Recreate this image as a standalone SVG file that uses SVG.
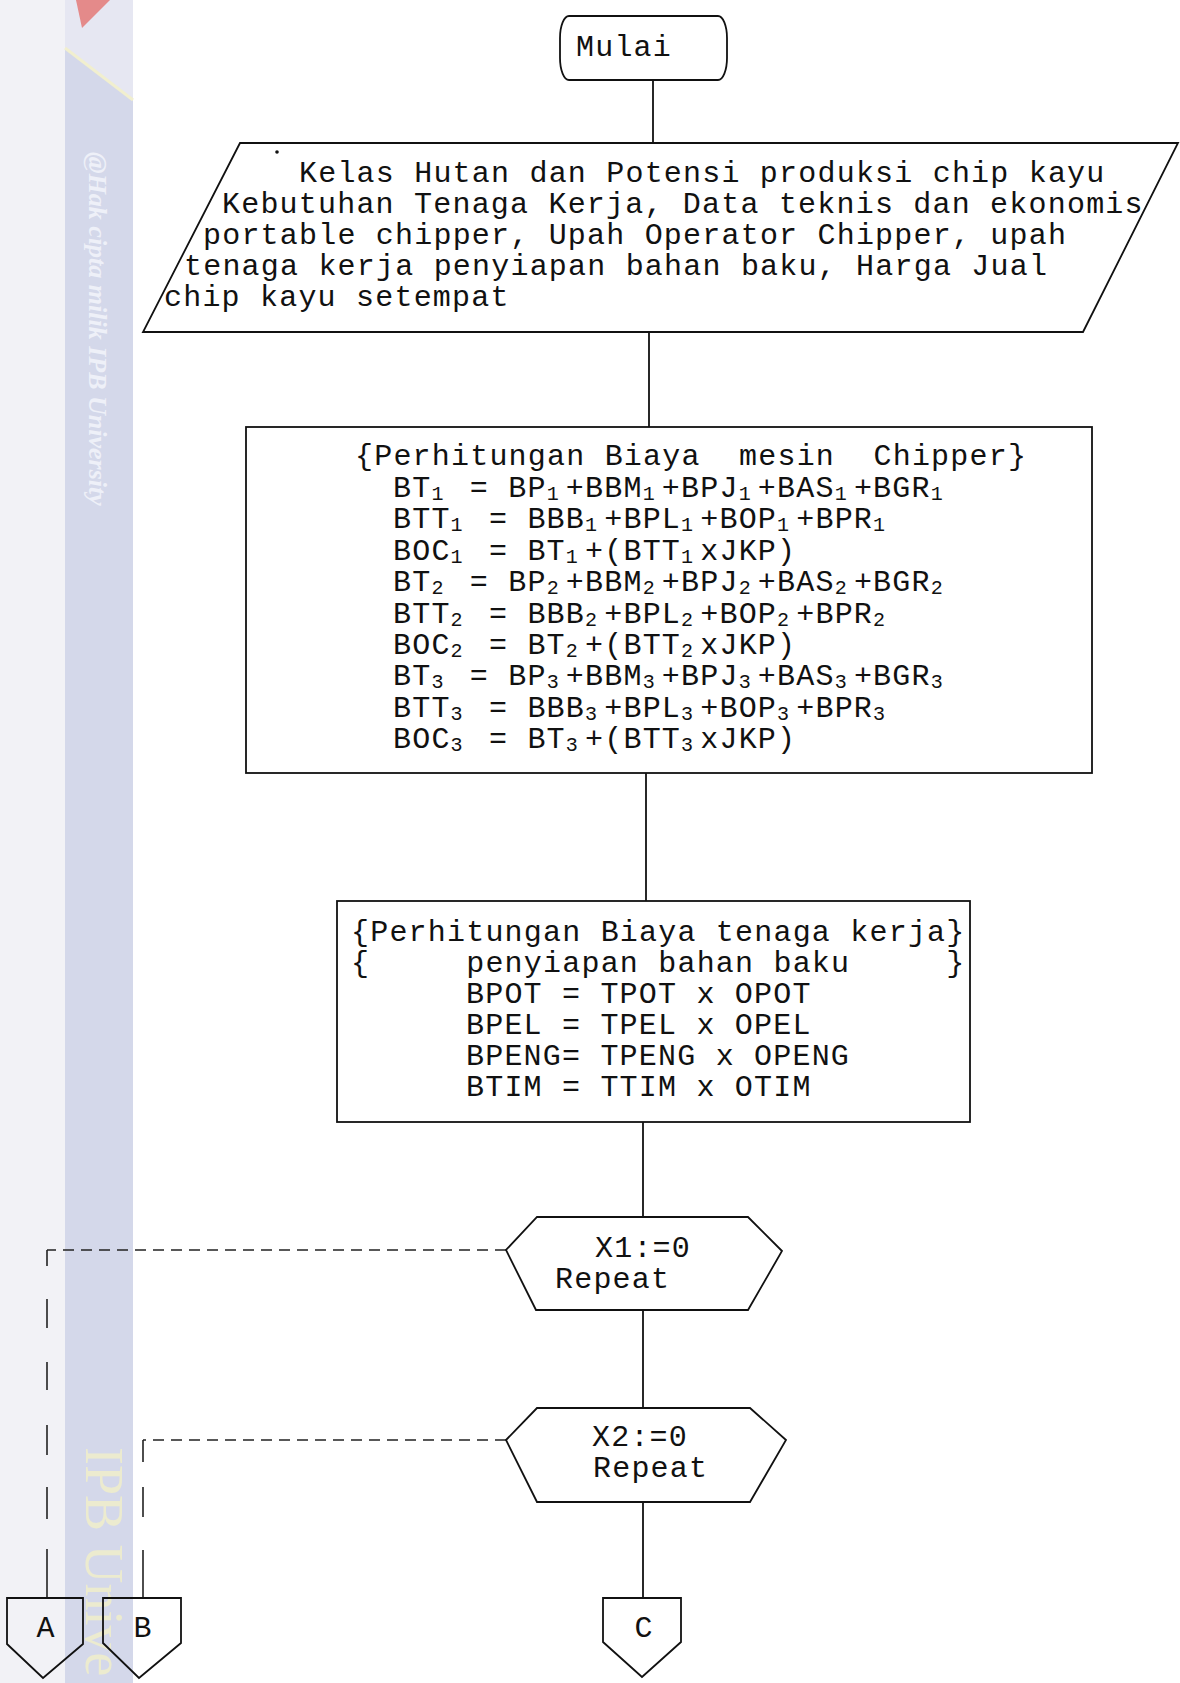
<svg xmlns="http://www.w3.org/2000/svg" width="1180" height="1683" viewBox="0 0 1180 1683">
<defs>
<style>
.shape{fill:none;stroke:#111;stroke-width:1.8;stroke-linejoin:miter}
.line{fill:none;stroke:#111;stroke-width:1.8}
.dashh{fill:none;stroke:#222;stroke-width:1.5;stroke-dasharray:11 7}
.dashv{fill:none;stroke:#222;stroke-width:1.6}
.t{font-family:"Liberation Mono","Courier New",monospace;font-size:30px;letter-spacing:1.2px;fill:#111}
.s{font-size:20px;letter-spacing:7.2px}
.wm1{font-family:"Liberation Serif","Times New Roman",serif;font-style:italic;font-weight:bold;font-size:26px;fill:#eef0f8}
.wm2{font-family:"Liberation Serif","Times New Roman",serif;font-size:54px;fill:#ecebcf}
</style>
</defs>
<g id="background">
<rect x="0" y="0" width="1180" height="1683" fill="#ffffff"/>
<rect x="0" y="0" width="65" height="1683" fill="#f2f2f6"/>
<rect x="65" y="0" width="68" height="1683" fill="#d4d8ea"/>
<polygon points="65,0 133,0 133,100 65,48" fill="#e6e7f2"/>
<polyline points="65,48 133,100" fill="none" stroke="#f1efcf" stroke-width="3"/>
<polygon points="76,0 110,0 82,28" fill="#e48a8a"/>
<text class="wm1" transform="translate(89,152) rotate(90)">@Hak cipta milik IPB University</text>
<text class="wm2" transform="translate(86,1447) rotate(90)">IPB Unive</text>
</g>
<g id="connectors">
<line class="line" x1="653" y1="80" x2="653" y2="143"/>
<line class="line" x1="649" y1="332" x2="649" y2="427"/>
<line class="line" x1="646" y1="773" x2="646" y2="901"/>
<line class="line" x1="643" y1="1122" x2="643" y2="1217"/>
<line class="line" x1="643" y1="1310" x2="643" y2="1408"/>
<line class="line" x1="643" y1="1502" x2="643" y2="1598"/>
<path class="dashh" d="M506,1250 H47"/>
<path class="dashv" d="M47,1250 V1266 M47,1299 V1328 M47,1362 V1390 M47,1425 V1455 M47,1487 V1519 M47,1549 V1598"/>
<path class="dashh" d="M506,1440 H143"/>
<path class="dashv" d="M143,1440 V1462 M143,1487 V1517 M143,1550 V1598"/>
</g>
<g id="mulai">
<rect class="shape" x="560" y="16" width="167" height="64" rx="9" ry="22"/>
<text class="t" x="576" y="56">Mulai</text>
</g>
<g id="input">
<polygon class="shape" points="240,143 1178,143 1083,332 143,332"/>
<circle cx="277" cy="152" r="1.8" fill="#111"/>
<text class="t" x="299" y="182">Kelas Hutan dan Potensi produksi chip kayu</text>
<text class="t" x="222" y="213">Kebutuhan Tenaga Kerja, Data teknis dan ekonomis</text>
<text class="t" x="203" y="244">portable chipper, Upah Operator Chipper, upah</text>
<text class="t" x="184" y="275">tenaga kerja penyiapan bahan baku, Harga Jual</text>
<text class="t" x="164" y="306">chip kayu setempat</text>
</g>
<g id="biaya-mesin">
<rect class="shape" x="246" y="427" width="846" height="346"/>
<text class="t" x="355" y="465" xml:space="preserve">{Perhitungan Biaya  mesin  Chipper}</text>
<text class="t" x="393" y="497" xml:space="preserve">BT<tspan class="s" dy="3">1</tspan><tspan dy="-3"> = BP</tspan><tspan class="s" dy="3">1</tspan><tspan dy="-3">+BBM</tspan><tspan class="s" dy="3">1</tspan><tspan dy="-3">+BPJ</tspan><tspan class="s" dy="3">1</tspan><tspan dy="-3">+BAS</tspan><tspan class="s" dy="3">1</tspan><tspan dy="-3">+BGR</tspan><tspan class="s" dy="3">1</tspan></text>
<text class="t" x="393" y="528" xml:space="preserve">BTT<tspan class="s" dy="3">1</tspan><tspan dy="-3"> = BBB</tspan><tspan class="s" dy="3">1</tspan><tspan dy="-3">+BPL</tspan><tspan class="s" dy="3">1</tspan><tspan dy="-3">+BOP</tspan><tspan class="s" dy="3">1</tspan><tspan dy="-3">+BPR</tspan><tspan class="s" dy="3">1</tspan></text>
<text class="t" x="393" y="560" xml:space="preserve">BOC<tspan class="s" dy="3">1</tspan><tspan dy="-3"> = BT</tspan><tspan class="s" dy="3">1</tspan><tspan dy="-3">+(BTT</tspan><tspan class="s" dy="3">1</tspan><tspan dy="-3">xJKP)</tspan></text>
<text class="t" x="393" y="591" xml:space="preserve">BT<tspan class="s" dy="3">2</tspan><tspan dy="-3"> = BP</tspan><tspan class="s" dy="3">2</tspan><tspan dy="-3">+BBM</tspan><tspan class="s" dy="3">2</tspan><tspan dy="-3">+BPJ</tspan><tspan class="s" dy="3">2</tspan><tspan dy="-3">+BAS</tspan><tspan class="s" dy="3">2</tspan><tspan dy="-3">+BGR</tspan><tspan class="s" dy="3">2</tspan></text>
<text class="t" x="393" y="623" xml:space="preserve">BTT<tspan class="s" dy="3">2</tspan><tspan dy="-3"> = BBB</tspan><tspan class="s" dy="3">2</tspan><tspan dy="-3">+BPL</tspan><tspan class="s" dy="3">2</tspan><tspan dy="-3">+BOP</tspan><tspan class="s" dy="3">2</tspan><tspan dy="-3">+BPR</tspan><tspan class="s" dy="3">2</tspan></text>
<text class="t" x="393" y="654" xml:space="preserve">BOC<tspan class="s" dy="3">2</tspan><tspan dy="-3"> = BT</tspan><tspan class="s" dy="3">2</tspan><tspan dy="-3">+(BTT</tspan><tspan class="s" dy="3">2</tspan><tspan dy="-3">xJKP)</tspan></text>
<text class="t" x="393" y="685" xml:space="preserve">BT<tspan class="s" dy="3">3</tspan><tspan dy="-3"> = BP</tspan><tspan class="s" dy="3">3</tspan><tspan dy="-3">+BBM</tspan><tspan class="s" dy="3">3</tspan><tspan dy="-3">+BPJ</tspan><tspan class="s" dy="3">3</tspan><tspan dy="-3">+BAS</tspan><tspan class="s" dy="3">3</tspan><tspan dy="-3">+BGR</tspan><tspan class="s" dy="3">3</tspan></text>
<text class="t" x="393" y="717" xml:space="preserve">BTT<tspan class="s" dy="3">3</tspan><tspan dy="-3"> = BBB</tspan><tspan class="s" dy="3">3</tspan><tspan dy="-3">+BPL</tspan><tspan class="s" dy="3">3</tspan><tspan dy="-3">+BOP</tspan><tspan class="s" dy="3">3</tspan><tspan dy="-3">+BPR</tspan><tspan class="s" dy="3">3</tspan></text>
<text class="t" x="393" y="748" xml:space="preserve">BOC<tspan class="s" dy="3">3</tspan><tspan dy="-3"> = BT</tspan><tspan class="s" dy="3">3</tspan><tspan dy="-3">+(BTT</tspan><tspan class="s" dy="3">3</tspan><tspan dy="-3">xJKP)</tspan></text>
</g>
<g id="biaya-tenaga-kerja">
<rect class="shape" x="337" y="901" width="633" height="221"/>
<text class="t" x="351" y="941" xml:space="preserve">{Perhitungan Biaya tenaga kerja}</text>
<text class="t" x="351" y="972" xml:space="preserve">{     penyiapan bahan baku     }</text>
<text class="t" x="466" y="1003" xml:space="preserve">BPOT = TPOT x OPOT</text>
<text class="t" x="466" y="1034" xml:space="preserve">BPEL = TPEL x OPEL</text>
<text class="t" x="466" y="1065" xml:space="preserve">BPENG= TPENG x OPENG</text>
<text class="t" x="466" y="1096" xml:space="preserve">BTIM = TTIM x OTIM</text>
</g>
<g id="repeat-x1">
<polygon class="shape" points="537,1217 748,1217 782,1251 748,1310 536,1310 506,1250"/>
<text class="t" x="595" y="1257">X1:=0</text>
<text class="t" x="555" y="1288">Repeat</text>
</g>
<g id="repeat-x2">
<polygon class="shape" points="537,1408 750,1408 786,1440 750,1502 537,1502 506,1440"/>
<text class="t" x="592" y="1446">X2:=0</text>
<text class="t" x="593" y="1477">Repeat</text>
</g>
<g id="conn-a">
<polygon class="shape" points="7,1598 83,1598 83,1644 43,1678 7,1644"/>
<text class="t" x="46" y="1637" text-anchor="middle">A</text>
</g>
<g id="conn-b">
<polygon class="shape" points="103,1598 181,1598 181,1643 139,1678 103,1643"/>
<text class="t" x="143" y="1637" text-anchor="middle">B</text>
</g>
<g id="conn-c">
<polygon class="shape" points="603,1598 681,1598 681,1642 642,1677 603,1642"/>
<text class="t" x="644" y="1637" text-anchor="middle">C</text>
</g>
</svg>
